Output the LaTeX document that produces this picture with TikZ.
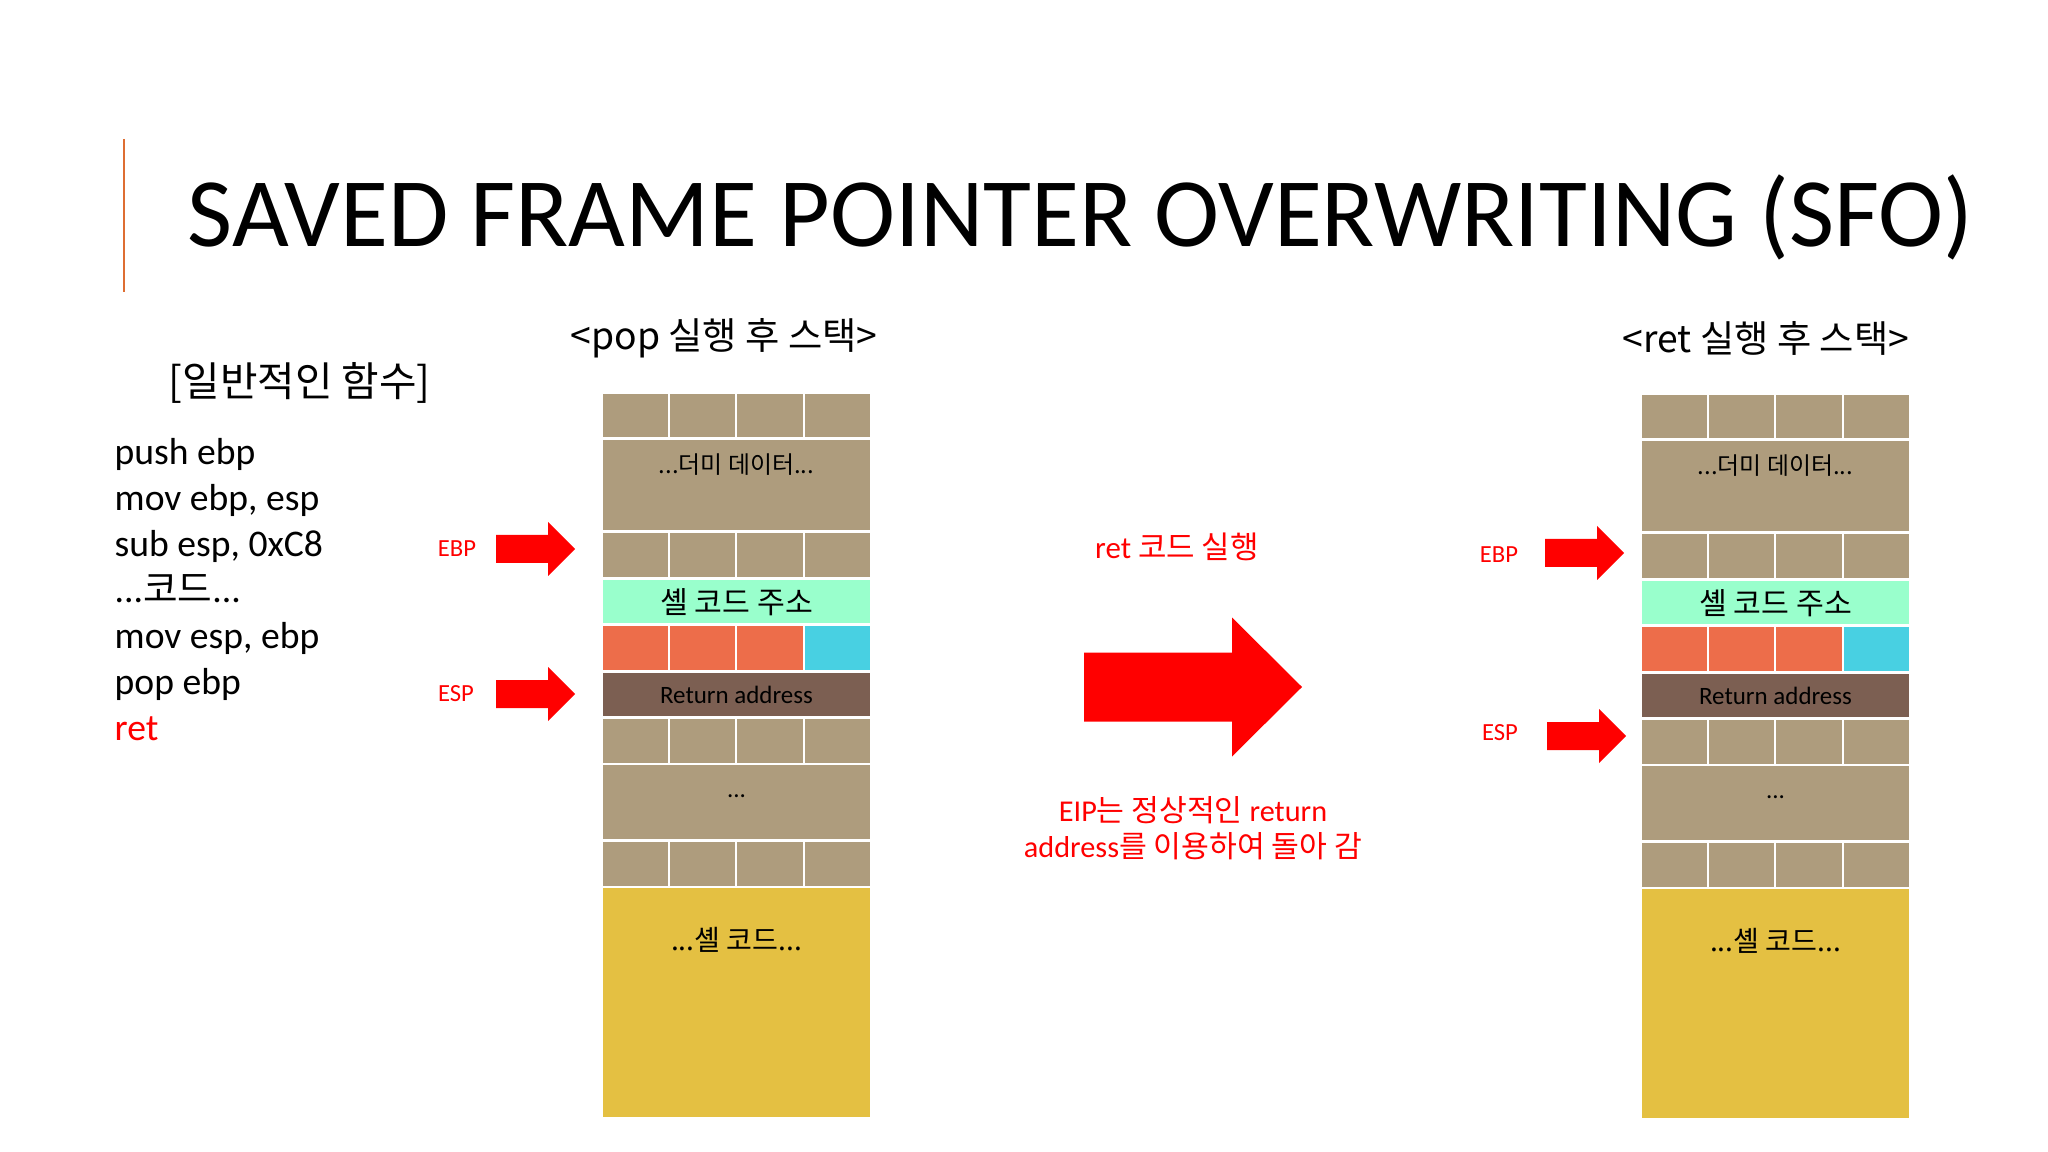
\documentclass[tikz,border=0pt]{standalone}
\usepackage{fontspec}
\setmainfont{Carlito}
\newfontfamily\kr{Noto Sans CJK KR}
\definecolor{brick}{RGB}{174,156,125}
\definecolor{mint}{RGB}{153,255,204}
\definecolor{hotcell}{RGB}{237,109,74}
\definecolor{coldcell}{RGB}{72,208,226}
\definecolor{retbrown}{RGB}{124,95,82}
\definecolor{shellgold}{RGB}{228,192,66}
\definecolor{accent}{RGB}{222,110,50}
\tikzset{cell/.style={draw=white,line width=0.7pt},
  every node/.style={inner sep=0pt},
  fatarrow/.style={fill=red}}

\begin{document}
\begin{tikzpicture}[x=0.01cm,y=-0.01cm]
      \useasboundingbox (0,0) rectangle (2048,1152);
      \draw[accent,line width=0.85pt] (124,139) -- (124,292);
      \node[anchor=base west,font=\fontsize{27.9}{33}\selectfont] (title) at (187,247) {SAVED FRAME POINTER OVERWRITING (SFO)};

      \node[anchor=base west,font=\kr\fontsize{11.6}{13}\selectfont] (func) at (168,397) {[일반적인 함수]};
      \node[anchor=base west,align=left,font=\fontsize{10.7}{13.05}\selectfont] (code) at (114,740)
        {push ebp\\mov ebp, esp\\sub esp, 0xC8\\...{\kr 코드}...\\mov esp, ebp\\pop ebp\\\textcolor{red}{ret}};

      \node[font=\kr\fontsize{10.6}{12}\selectfont] (popcap) at (724,338) {<pop 실행 후 스택>};
      \node[font=\kr\fontsize{10.6}{12}\selectfont] (retcap) at (1766,338) {<ret 실행 후 스택>};

      % two stacks, the right one shifted
      \foreach \sx/\sy/\side in {0/0/L,1039/1/R}{
        \begin{scope}[shift={(\sx,\sy)}]
          \foreach \ya/\yb in {393/438.5,531.5/578.5,717.5/764,840.5/887}
            \foreach \xa/\xb in {602/669,669/736,736/804,804/871}
              \filldraw[cell,fill=brick] (\xa,\ya) rectangle (\xb,\yb);
          \filldraw[cell,fill=brick] (602,438.5) rectangle (871,531.5);
          \filldraw[cell,fill=mint] (602,578.5) rectangle (871,624.5);
          \foreach \xa/\xb in {602/669,669/736,736/804}
            \filldraw[cell,fill=hotcell] (\xa,624.5) rectangle (\xb,671.5);
          \filldraw[cell,fill=coldcell] (804,624.5) rectangle (871,671.5);
          \filldraw[cell,fill=retbrown] (602,671.5) rectangle (871,717.5);
          \filldraw[cell,fill=brick] (602,764) rectangle (871,840.5);
          \filldraw[cell,fill=shellgold] (602,887) rectangle (871,1118);

          \node[font=\kr\fontsize{6.8}{8}\selectfont] (dummy\side) at (736.5,465) {...더미 데이터...};
          \node[font=\kr\fontsize{8.6}{10}\selectfont] (addr\side) at (736.5,602) {셸 코드 주소};
          \node[font=\fontsize{7.1}{8}\selectfont] (ret\side) at (736.5,695) {Return address};
          \node[anchor=base,font=\fontsize{7.1}{8}\selectfont] (dots\side) at (736.5,797) {...};
          \node[font=\kr\fontsize{8}{9}\selectfont] (shell\side) at (736.5,940) {...셸 코드...};
        \end{scope}
      }

      % register pointers
      \node[red,font=\fontsize{7}{8}\selectfont] (ebpL) at (457,549) {EBP};
      \node[red,font=\fontsize{7}{8}\selectfont] (espL) at (456,694) {ESP};
      \node[red,font=\fontsize{7}{8}\selectfont] (ebpR) at (1499,555) {EBP};
      \node[red,font=\fontsize{7}{8}\selectfont] (espR) at (1500,733) {ESP};
      \foreach \tx/\ty in {575/549,575/694,1624/553,1626/736}
        \fill[fatarrow,shift={(\tx,\ty)}] (-79,-14) -- (-27,-14) -- (-27,-27) -- (0,0) -- (-27,27) -- (-27,14) -- (-79,14) -- cycle;

      % middle step
      \node[red,font=\fontsize{8.8}{10}\selectfont] (retrun) at (1177,547) {ret {\kr 코드 실행}};
      \fill[fatarrow,shift={(1302,687)}] (-218,-34.5) -- (-70,-34.5) -- (-70,-69.5) -- (0,0) -- (-70,69.5) -- (-70,34.5) -- (-218,34.5) -- cycle;
      \node[red,align=center,anchor=base,font=\fontsize{8.6}{10.2}\selectfont] (eipnote) at (1193,857)
        {EIP{\kr 는 정상적인} return\\address{\kr 를 이용하여 돌아 감}};
    \end{tikzpicture}
\end{document}
